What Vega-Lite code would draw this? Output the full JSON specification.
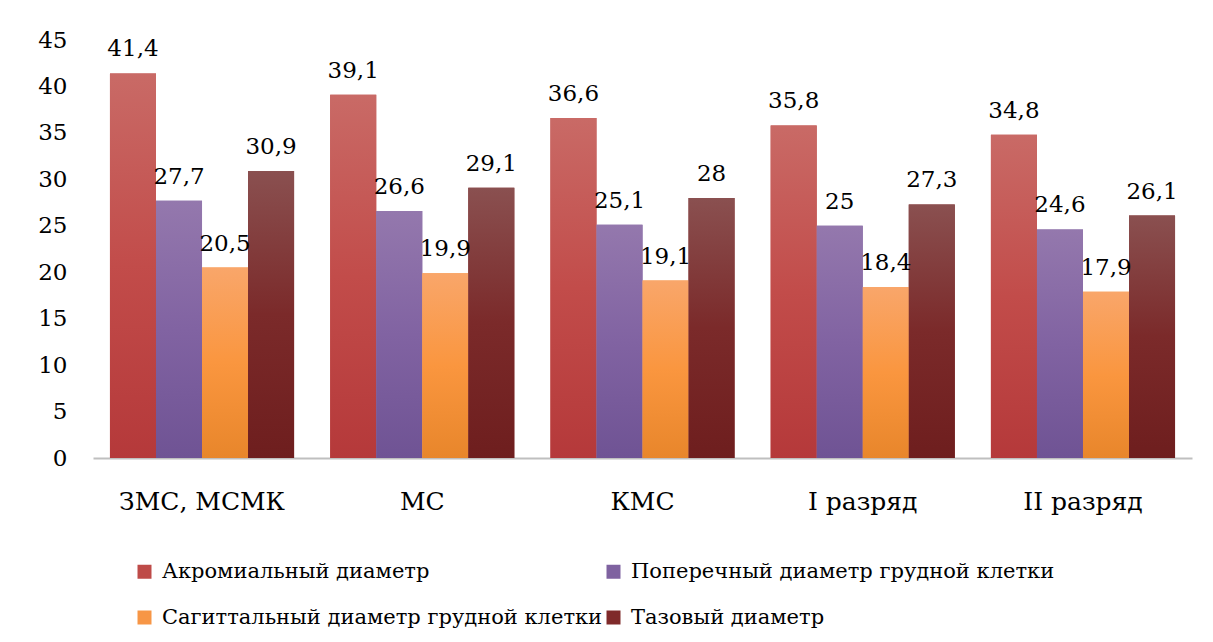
{
  "$schema": "https://vega.github.io/schema/vega-lite/v6.json",
  "width": 1099,
  "height": 418,
  "autosize": {"type": "none"},
  "padding": {"left": 93, "top": 40, "right": 21, "bottom": 184},
  "background": "white",
  "config": {
    "locale": {"number": {"decimal": ",", "thousands": " ", "grouping": [3], "currency": ["", ""]}},
    "view": {"stroke": null},
    "font": "DejaVu Serif"
  },
  "data": {"values": [
    {"cat": "ЗМС, МСМК", "series": "Акромиальный диаметр", "value": 41.4},
    {"cat": "ЗМС, МСМК", "series": "Поперечный диаметр грудной клетки", "value": 27.7},
    {"cat": "ЗМС, МСМК", "series": "Сагиттальный диаметр грудной клетки", "value": 20.5},
    {"cat": "ЗМС, МСМК", "series": "Тазовый диаметр", "value": 30.9},
    {"cat": "МС", "series": "Акромиальный диаметр", "value": 39.1},
    {"cat": "МС", "series": "Поперечный диаметр грудной клетки", "value": 26.6},
    {"cat": "МС", "series": "Сагиттальный диаметр грудной клетки", "value": 19.9},
    {"cat": "МС", "series": "Тазовый диаметр", "value": 29.1},
    {"cat": "КМС", "series": "Акромиальный диаметр", "value": 36.6},
    {"cat": "КМС", "series": "Поперечный диаметр грудной клетки", "value": 25.1},
    {"cat": "КМС", "series": "Сагиттальный диаметр грудной клетки", "value": 19.1},
    {"cat": "КМС", "series": "Тазовый диаметр", "value": 28},
    {"cat": "I разряд", "series": "Акромиальный диаметр", "value": 35.8},
    {"cat": "I разряд", "series": "Поперечный диаметр грудной клетки", "value": 25},
    {"cat": "I разряд", "series": "Сагиттальный диаметр грудной клетки", "value": 18.4},
    {"cat": "I разряд", "series": "Тазовый диаметр", "value": 27.3},
    {"cat": "II разряд", "series": "Акромиальный диаметр", "value": 34.8},
    {"cat": "II разряд", "series": "Поперечный диаметр грудной клетки", "value": 24.6},
    {"cat": "II разряд", "series": "Сагиттальный диаметр грудной клетки", "value": 17.9},
    {"cat": "II разряд", "series": "Тазовый диаметр", "value": 26.1}
  ]},
  "encoding": {
    "x": {
      "field": "cat", "type": "nominal", "sort": null,
      "scale": {"paddingInner": 0.164, "paddingOuter": 0.077},
      "axis": {"title": null, "labelAngle": 0, "ticks": false, "domainColor": "#bfbfbf", "domainWidth": 2, "labelFont": "DejaVu Serif", "labelFontSize": 25, "labelColor": "#000000", "labelPadding": 31}
    },
    "xOffset": {
      "field": "series", "type": "nominal",
      "scale": {"domain": ["Акромиальный диаметр", "Поперечный диаметр грудной клетки", "Сагиттальный диаметр грудной клетки", "Тазовый диаметр"], "paddingInner": 0, "paddingOuter": 0}
    },
    "y": {
      "field": "value", "type": "quantitative",
      "scale": {"domain": [0, 45]},
      "axis": {"title": null, "values": [0, 5, 10, 15, 20, 25, 30, 35, 40, 45], "grid": false, "domain": false, "ticks": false, "labelFont": "DejaVu Serif", "labelFontSize": 23, "labelColor": "#000000", "labelPadding": 26}
    }
  },
  "layer": [
    {
      "mark": {"type": "bar"},
      "encoding": {
        "color": {
          "field": "series", "type": "nominal",
          "scale": {"domain": ["Акромиальный диаметр", "Поперечный диаметр грудной клетки", "Сагиттальный диаметр грудной клетки", "Тазовый диаметр"], "range": ["#be4b48", "#7f62a0", "#f79646", "#7f2a2a"]},
          "legend": {"title": null, "orient": "none", "direction": "horizontal", "legendX": 41, "legendY": 521, "columns": 2, "symbolType": "square", "symbolSize": 196, "symbolStrokeWidth": 0, "labelFont": "DejaVu Serif", "labelFontSize": 21, "labelColor": "#000000", "labelLimit": 0, "columnPadding": 0, "rowPadding": 24, "labelOffset": 7}
        }
      }
    },
    {
      "transform": [{"filter": "datum.series === 'Акромиальный диаметр'"}],
      "mark": {"type": "bar", "fill": {"gradient": "linear", "x1": 0, "y1": 0, "x2": 0, "y2": 1, "stops": [{"offset": 0, "color": "#c96a66"}, {"offset": 0.5, "color": "#c24c4a"}, {"offset": 1, "color": "#b5393a"}]}}
    },
    {
      "transform": [{"filter": "datum.series === 'Поперечный диаметр грудной клетки'"}],
      "mark": {"type": "bar", "fill": {"gradient": "linear", "x1": 0, "y1": 0, "x2": 0, "y2": 1, "stops": [{"offset": 0, "color": "#9478ad"}, {"offset": 0.5, "color": "#8163a2"}, {"offset": 1, "color": "#6f5394"}]}}
    },
    {
      "transform": [{"filter": "datum.series === 'Сагиттальный диаметр грудной клетки'"}],
      "mark": {"type": "bar", "fill": {"gradient": "linear", "x1": 0, "y1": 0, "x2": 0, "y2": 1, "stops": [{"offset": 0, "color": "#f9a66a"}, {"offset": 0.5, "color": "#fa963f"}, {"offset": 1, "color": "#e8862b"}]}}
    },
    {
      "transform": [{"filter": "datum.series === 'Тазовый диаметр'"}],
      "mark": {"type": "bar", "fill": {"gradient": "linear", "x1": 0, "y1": 0, "x2": 0, "y2": 1, "stops": [{"offset": 0, "color": "#8a5050"}, {"offset": 0.5, "color": "#7b2a2a"}, {"offset": 1, "color": "#6e1e1e"}]}}
    },
    {
      "mark": {"type": "text", "baseline": "bottom", "dy": -12, "font": "DejaVu Serif", "fontSize": 23, "color": "#000000"},
      "encoding": {
        "text": {"field": "value", "type": "quantitative", "format": ".1~f"}
      }
    }
  ]
}
